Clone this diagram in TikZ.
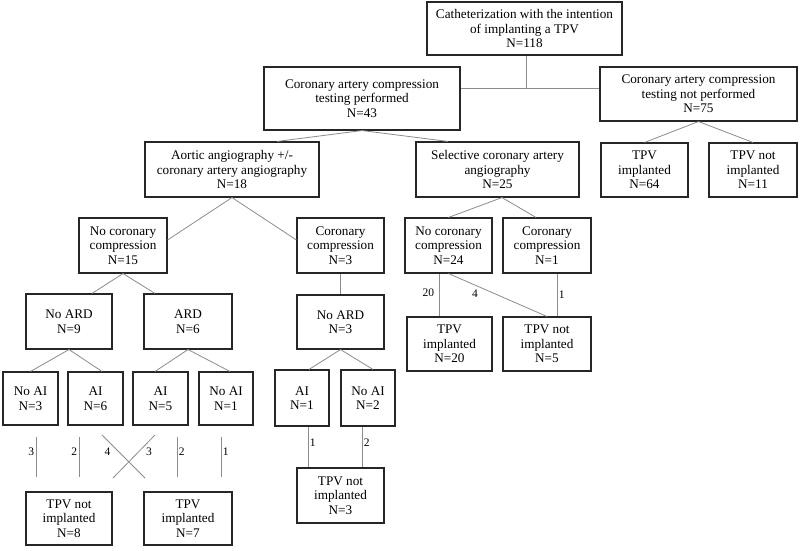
\documentclass[tikz,border=0pt]{standalone}
\usepackage{fontspec}
\setmainfont{Liberation Serif}
\usetikzlibrary{calc}
\begin{document}
\begin{tikzpicture}[x=1pt,y=-1pt,
  box/.style={draw=black!85, line width=1.1pt, align=center, inner sep=2pt,
    font=\fontsize{13.2}{14.5}\selectfont, fill=white},
  conn/.style={draw=black!45, line width=0.8pt},
  lbl/.style={font=\fontsize{11.5}{12}\selectfont, inner sep=1.5pt}]
\useasboundingbox (0,0) rectangle (800,551);
\fill[white] (0,0) rectangle (800,551);

% nodes
\node[box, minimum width=195pt, minimum height=53pt] (cat) at (524.5,28.5)
  {Catheterization with the intention\\of implanting a TPV\\N=118};
\node[box, minimum width=196pt, minimum height=63pt] (cp) at (362,98.5)
  {Coronary artery compression\\testing performed\\N=43};
\node[box, minimum width=197pt, minimum height=54pt] (cnp) at (698.5,94)
  {Coronary artery compression\\testing not performed\\N=75};
\node[box, minimum width=87pt, minimum height=54pt] (tpv64) at (644.5,170)
  {TPV\\implanted\\N=64};
\node[box, minimum width=88pt, minimum height=54pt] (tpvn11) at (753,170)
  {TPV not\\implanted\\N=11};
\node[box, minimum width=174pt, minimum height=55pt] (aortic) at (232,169.5)
  {Aortic angiography +/-\\coronary artery angiography\\N=18};
\node[box, minimum width=163pt, minimum height=55pt] (sel) at (497.5,169.5)
  {Selective coronary artery\\angiography\\N=25};
\node[box, minimum width=88pt, minimum height=55pt] (ncc15) at (123,245.5)
  {No coronary\\compression\\N=15};
\node[box, minimum width=87pt, minimum height=55pt] (cc3) at (340.5,245.5)
  {Coronary\\compression\\N=3};
\node[box, minimum width=87pt, minimum height=55pt] (ncc24) at (448.5,245.5)
  {No coronary\\compression\\N=24};
\node[box, minimum width=88pt, minimum height=55pt] (cc1) at (547,245.5)
  {Coronary\\compression\\N=1};
\node[box, minimum width=86pt, minimum height=55pt] (noard9) at (69,321.5)
  {No ARD\\N=9};
\node[box, minimum width=88pt, minimum height=55pt] (ard6) at (188,321.5)
  {ARD\\N=6};
\node[box, minimum width=87pt, minimum height=54pt] (noard3) at (340.5,322)
  {No ARD\\N=3};
\node[box, minimum width=85pt, minimum height=54pt] (tpv20) at (449.5,344)
  {TPV\\implanted\\N=20};
\node[box, minimum width=88pt, minimum height=54pt] (tpvn5) at (547,344)
  {TPV not\\implanted\\N=5};
\node[box, minimum width=55pt, minimum height=53pt] (noai3) at (30.5,398.5)
  {No AI\\N=3};
\node[box, minimum width=55pt, minimum height=53pt] (ai6) at (95.5,398.5)
  {AI\\N=6};
\node[box, minimum width=55pt, minimum height=53pt] (ai5) at (160.5,398.5)
  {AI\\N=5};
\node[box, minimum width=54pt, minimum height=53pt] (noai1) at (226,398.5)
  {No AI\\N=1};
\node[box, minimum width=54pt, minimum height=56pt] (ai1) at (302,398)
  {AI\\N=1};
\node[box, minimum width=54pt, minimum height=56pt] (noai2) at (368,398)
  {No AI\\N=2};
\node[box, minimum width=87pt, minimum height=55pt] (tpvn3) at (340.5,495.5)
  {TPV not\\implanted\\N=3};
\node[box, minimum width=86pt, minimum height=53pt] (tpvn8) at (69,518.5)
  {TPV not\\implanted\\N=8};
\node[box, minimum width=88pt, minimum height=53pt] (tpv7) at (188,518.5)
  {TPV\\implanted\\N=7};

% connectors
\coordinate (j) at (526,88);
\draw[conn] (cat.south -| j) -- (j);
\draw[conn] (cp.east |- j) -- (cnp.west |- j);
\draw[conn] (cp.south) -- ([xshift=45pt]aortic.north);
\draw[conn] (cp.south) -- ([xshift=-49.5pt]sel.north);
\draw[conn] (cnp.south) -- (tpv64.north);
\draw[conn] (cnp.south) -- (tpvn11.north);
\draw[conn] (aortic.south) -- ([yshift=5.5pt]ncc15.east);
\draw[conn] (aortic.south) -- ([yshift=5.5pt]cc3.west);
\draw[conn] ([xshift=4.5pt]sel.south) -- (ncc24.north);
\draw[conn] ([xshift=4.5pt]sel.south) -- ([xshift=-11pt]cc1.north);
\draw[conn] (ncc15.south) -- ([xshift=23pt]noard9.north);
\draw[conn] (ncc15.south) -- ([xshift=-33pt]ard6.north);
\draw[conn] (noard9.south) -- (noai3.north);
\draw[conn] (noard9.south) -- ([xshift=6.5pt]ai6.north);
\draw[conn] (ard6.south) -- ([xshift=-5.5pt]ai5.north);
\draw[conn] (ard6.south) -- ([xshift=4pt]noai1.north);
\draw[conn] (cc3.south) -- (noard3.north);
\draw[conn] (noard3.south) -- ([xshift=7pt]ai1.north);
\draw[conn] (noard3.south) -- ([xshift=5pt]noai2.north);
\draw[conn] ([xshift=6pt]ai1.south) -- node[lbl,right,pos=0.4]{1} ([xshift=6pt]ai1.south |- tpvn3.north);
\draw[conn] ([xshift=-6pt]noai2.south) -- node[lbl,right,pos=0.4]{2} ([xshift=-6pt]noai2.south |- tpvn3.north);
\draw[conn] ([xshift=-9.5pt]ncc24.south) -- node[lbl,left=3pt,pos=0.45]{20} ([xshift=-9.5pt]ncc24.south |- tpv20.north);
\draw[conn] (ncc24.south) -- node[lbl,pos=0.27,below=3pt]{4} (tpvn5.north);
\draw[conn] ([xshift=10pt]cc1.south) -- node[lbl,right,pos=0.5]{1} ([xshift=10pt]cc1.south |- tpvn5.north);

% loose connectors between the AI boxes and the outcome boxes
\coordinate (a1) at (36,437);  \coordinate (b1) at (36,477);
\coordinate (a2) at (79,437);  \coordinate (b2) at (79,477);
\coordinate (a3) at (102,435); \coordinate (b3) at (145,478);
\coordinate (a4) at (155,435); \coordinate (b4) at (113,478);
\coordinate (a5) at (177,437); \coordinate (b5) at (177,477);
\coordinate (a6) at (221,437); \coordinate (b6) at (221,477);
\draw[conn] (a1) -- node[lbl,left,pos=0.37]{3} (b1);
\draw[conn] (a2) -- node[lbl,left,pos=0.37]{2} (b2);
\draw[conn] (a3) -- node[lbl,left=7pt,pos=0.4]{4} (b3);
\draw[conn] (a4) -- node[lbl,right=6pt,pos=0.4]{3} (b4);
\draw[conn] (a5) -- node[lbl,right,pos=0.37]{2} (b5);
\draw[conn] (a6) -- node[lbl,right,pos=0.37]{1} (b6);
\end{tikzpicture}
\end{document}
